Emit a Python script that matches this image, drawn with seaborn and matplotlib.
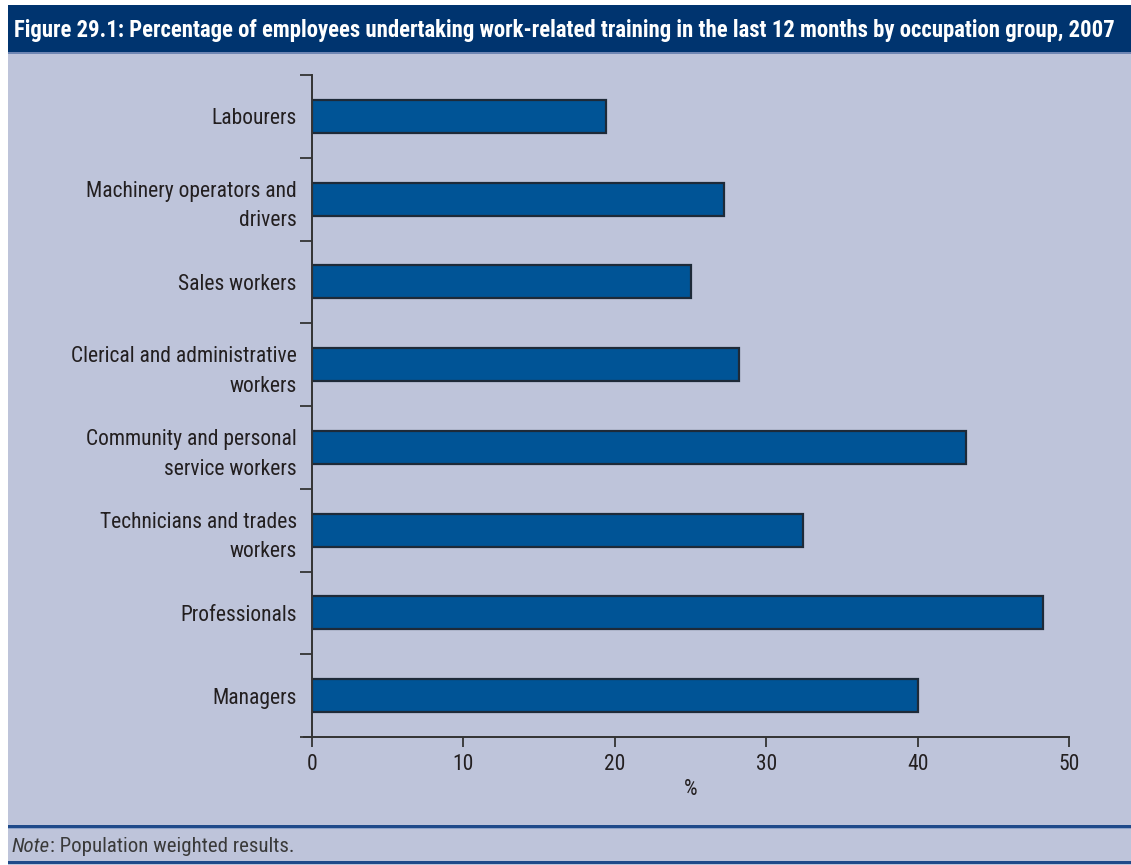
import matplotlib
matplotlib.use("Agg")
import matplotlib.pyplot as plt
from matplotlib.patches import Rectangle
from matplotlib import font_manager
import seaborn as sns
import pandas as pd

# Occupation groups, listed top to bottom
occupations = [
    "Labourers",
    "Machinery operators and\ndrivers",
    "Sales workers",
    "Clerical and administrative\nworkers",
    "Community and personal\nservice workers",
    "Technicians and trades\nworkers",
    "Professionals",
    "Managers",
]
# Share of employees with work-related training (%)
training_pct = [19.4, 27.2, 25.0, 28.2, 43.2, 32.4, 48.3, 40.0]
x_ticks = [0, 10, 20, 30, 40, 50]

title_text = ("Figure 29.1: Percentage of employees undertaking work-related training "
              "in the last 12 months by occupation group, 2007")
note_text = ": Population weighted results."

BG = "#BEC4DA"
BAND = "#00346F"
BAR = "#005496"
EDGE = "#1E2A38"
TEXT = "#231F20"


def pick_font(candidates):
    for name in candidates:
        try:
            font_manager.findfont(font_manager.FontProperties(family=name),
                                  fallback_to_default=False)
            return name
        except ValueError:
            continue
    return "DejaVu Sans"


MAIN = pick_font(["Liberation Sans Narrow", "Roboto Condensed", "DejaVu Sans Condensed",
                  "Arial Narrow", "Roboto", "Liberation Sans"])
FONT = [MAIN, "DejaVu Sans"]

sns.set_theme(style="white")
plt.rcParams["font.family"] = FONT
plt.rcParams["text.color"] = TEXT

W, H = 1131, 865
fig = plt.figure(figsize=(W / 100, H / 100), dpi=100)
fig.patch.set_facecolor("white")


def px_rect(x0, y0, x1, y1, color, z=0):
    # rectangle in pixel coordinates measured from the top-left corner
    fig.patches.append(Rectangle((x0 / W, 1 - y1 / H), (x1 - x0) / W, (y1 - y0) / H,
                                 transform=fig.transFigure, facecolor=color,
                                 edgecolor="none", zorder=z))


# panel background, title band and rules
px_rect(8, 5, W, H, BG, -2)
px_rect(8, 5, W, 52, BAND, -1)
px_rect(8, 52, W, 54, "#6F86B3", -1)
px_rect(8, 825, W, 828, "#1F4A8A", -1)
px_rect(8, 828, W, 829, "#8FA3C8", -1)
px_rect(8, 861, W, 864, "#1F4A8A", -1)

renderer = fig.canvas.get_renderer()

title = fig.text(14 / W, 1 - 30 / H, title_text, color="white", fontsize=15,
                 fontweight="bold", va="center", ha="left", family=FONT)
# fit the title across the band
tw = title.get_window_extent(renderer).width
title.set_fontsize(15 * 1104 / tw)

note_y = 1 - 846 / H
NOTE_FS = 15
t = fig.text(12 / W, note_y, "Note", fontsize=NOTE_FS, style="italic", va="center",
             ha="left", family=FONT, color="#3A3A3A")
bb = t.get_window_extent(renderer)
fig.text(bb.x1 / W, note_y, note_text, fontsize=NOTE_FS,
         va="center", ha="left", family=FONT, color="#3A3A3A")

ax = fig.add_axes([312 / W, 1 - 737 / H, (1069 - 312) / W, (737 - 75) / H])
ax.set_facecolor("none")
ax.set_zorder(3)

df = pd.DataFrame({"occupation": occupations, "pct": training_pct})
sns.barplot(data=df, x="pct", y="occupation", orient="h", color=BAR,
            edgecolor=EDGE, linewidth=1.6, width=0.4, saturation=1, ax=ax)
for p in ax.patches:
    p.set_facecolor(BAR)

LBL = 15.5
ax.set_xlim(0, 50)
ax.set_ylim(len(occupations) - 0.5, -0.5)
ax.set_xticks(x_ticks)
ax.set_xticklabels([str(v) for v in x_ticks], fontsize=LBL)
ax.set_xlabel("%", fontsize=LBL, labelpad=3, color=TEXT)
ax.set_ylabel("")

# boundary ticks between categories; labels sit at category centres
ax.set_yticks([i - 0.5 for i in range(len(occupations) + 1)])
ax.set_yticklabels([])
ax.set_yticks(range(len(occupations)), minor=True)
ax.set_yticklabels(occupations, minor=True, fontsize=LBL, linespacing=1.55)
ax.tick_params(axis="y", which="major", direction="out", length=9, width=1.3,
               color="#333333", left=True)
ax.tick_params(axis="y", which="minor", length=0, pad=11, labelcolor=TEXT, left=False)
ax.tick_params(axis="x", direction="out", length=7, width=1.3, color="#333333",
               bottom=True, labelcolor=TEXT, pad=5)

for side in ["top", "right"]:
    ax.spines[side].set_visible(False)
for side in ["left", "bottom"]:
    ax.spines[side].set_color("#333333")
    ax.spines[side].set_linewidth(1.4)
ax.spines["bottom"].set_bounds(-0.5, 50)
ax.grid(False)

fig.savefig("out.png", dpi=100, facecolor=fig.get_facecolor())
